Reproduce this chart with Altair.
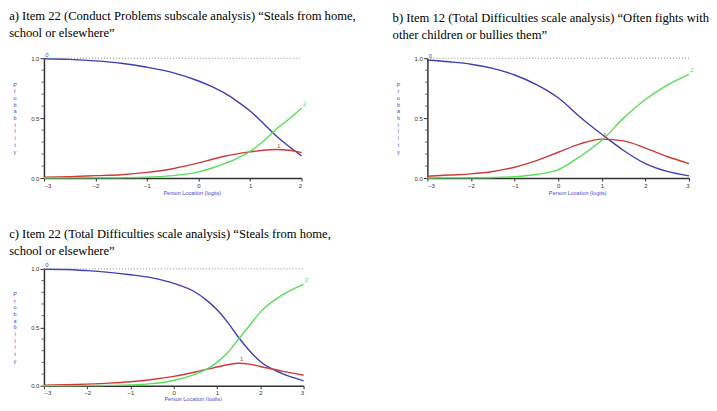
import altair as alt
import pandas as pd

# ---------------- data ----------------
# Panel a: Item 22 (Conduct Problems subscale)
xa = [-3, -2.5, -2, -1.5, -1, -0.5, 0, 0.25, 0.5, 0.75, 1, 1.25, 1.5, 1.75, 2]
a0 = [0.995, 0.99, 0.978, 0.958, 0.925, 0.88, 0.81, 0.765, 0.71, 0.64, 0.56, 0.46, 0.355, 0.265, 0.185]
a1 = [0.008, 0.012, 0.02, 0.028, 0.047, 0.078, 0.126, 0.155, 0.182, 0.202, 0.218, 0.232, 0.238, 0.232, 0.212]
a2 = [0.0, 0.001, 0.002, 0.003, 0.006, 0.02, 0.052, 0.082, 0.12, 0.165, 0.222, 0.305, 0.405, 0.49, 0.585]

# Panel b: Item 12 (Total Difficulties scale)
xb = [-3, -2.5, -2, -1.5, -1, -0.5, 0, 0.5, 1, 1.5, 2, 2.5, 3]
b0 = [0.985, 0.97, 0.95, 0.915, 0.86, 0.78, 0.67, 0.51, 0.365, 0.23, 0.12, 0.055, 0.018]
b1 = [0.015, 0.025, 0.035, 0.055, 0.09, 0.145, 0.215, 0.285, 0.325, 0.31, 0.25, 0.18, 0.12]
b2 = [0.0, 0.001, 0.002, 0.005, 0.012, 0.03, 0.07, 0.18, 0.315, 0.5, 0.655, 0.775, 0.865]

# Panel c: Item 22 (Total Difficulties scale)
xc = [-3, -2.5, -2, -1.5, -1, -0.5, 0, 0.5, 0.75, 1, 1.25, 1.5, 1.75, 2, 2.5, 3]
c0 = [0.997, 0.995, 0.985, 0.97, 0.95, 0.923, 0.876, 0.8, 0.735, 0.65, 0.54, 0.413, 0.3, 0.207, 0.105, 0.042]
c1 = [0.004, 0.008, 0.014, 0.022, 0.034, 0.053, 0.08, 0.118, 0.14, 0.16, 0.18, 0.193, 0.185, 0.165, 0.125, 0.09]
c2 = [0.0, 0.0, 0.001, 0.003, 0.007, 0.018, 0.045, 0.1, 0.14, 0.2, 0.285, 0.4, 0.515, 0.63, 0.775, 0.868]

titles = {
    "a": ["a) Item 22 (Conduct Problems subscale analysis) \u201cSteals from home,",
          "school or elsewhere\u201d"],
    "b": ["b) Item 12 (Total Difficulties scale analysis) \u201cOften fights with",
          "other children or bullies them\u201d"],
    "c": ["c) Item 22 (Total Difficulties scale analysis) \u201cSteals from home,",
          "school or elsewhere\u201d"],
}
categories = ["0", "1", "2"]
cat_colors = ["#3f3fb5", "#cc3a3a", "#58de58"]
x_title = "Person Location (logits)"
y_title = "Probability"
y_major = [0.0, 0.5, 1.0]
y_minor = [0.1, 0.2, 0.3, 0.4, 0.6, 0.7, 0.8, 0.9]

BLUE_TXT = "#4a4acc"
LETTER_LH = 6.7


def panel(key, xs, p0, p1, p2, w, h, xlabel_shift, toff, xtitle_pad=2):
    xmin, xmax = xs[0], xs[-1]
    rows = []
    for cat, ys in zip(categories, [p0, p1, p2]):
        for x, y in zip(xs, ys):
            rows.append({"x": x, "p": y, "cat": cat})
    df = pd.DataFrame(rows)

    xscale = alt.Scale(domain=[xmin, xmax], nice=False, zero=False)
    yscale = alt.Scale(domain=[0, 1], nice=False)
    cscale = alt.Scale(domain=categories, range=cat_colors)

    xaxis = alt.Axis(values=list(range(int(xmin), int(xmax) + 1)), format="d",
                     labelFontSize=6, labelColor="#333", labelFont="Liberation Sans",
                     labelPadding=1, tickSize=3, tickColor="#333",
                     domainColor="#333", domainWidth=1.5, grid=False,
                     title=x_title, titleFontSize=5.5, titleFont="Liberation Sans",
                     titleFontWeight="normal", titleColor=BLUE_TXT, titlePadding=xtitle_pad,
                     titleX=w / 2 + xlabel_shift)
    yaxis = alt.Axis(values=y_major, format=".1f",
                     labelFontSize=6, labelColor="#333", labelFont="Liberation Sans",
                     labelPadding=1, tickSize=4,
                     tickColor="#333", domainColor="#333", domainWidth=1.5, grid=False,
                     title=None)
    X = alt.X("x:Q", scale=xscale, axis=xaxis)
    Y = alt.Y("p:Q", scale=yscale, axis=yaxis)
    C = alt.Color("cat:N", scale=cscale, legend=None)

    lines = alt.Chart(df).mark_line(strokeWidth=1.4, interpolate="monotone").encode(
        x=X, y=Y, color=C,
    )

    rule_df = pd.DataFrame({"x": [xmin], "x2": [xmax], "p": [1.0]})
    rule = alt.Chart(rule_df).mark_rule(color="#888", strokeDash=[1, 2], strokeWidth=1).encode(
        x=X, x2="x2:Q", y=Y
    )

    minor = alt.Chart(pd.DataFrame({"p": y_minor})).mark_tick(
        orient="horizontal", size=2.5, thickness=1, color="#333"
    ).encode(x=alt.value(-1.3), y=Y)

    n = len(y_title)
    ytitle = alt.Chart(pd.DataFrame({"t": [0]})).mark_text(
        text=list(y_title), lineHeight=LETTER_LH, fontSize=5.5, font="Liberation Sans",
        color=BLUE_TXT, baseline="middle", align="center"
    ).encode(x=alt.value(-29), y=alt.value(h / 2 - (n - 1) * LETTER_LH / 2))

    lab_df = pd.DataFrame({
        "x": [xs[0], xs[p1.index(max(p1))], xs[-1]],
        "p": [p0[0], max(p1), p2[-1]],
        "cat": categories,
    })
    labels = alt.Chart(lab_df).mark_text(fontSize=6, dy=-4, dx=3, font="Liberation Sans").encode(
        x=X, y=Y, text="cat:N", color=C,
    )

    return alt.layer(lines, rule, minor, ytitle, labels).properties(
        width=w, height=h,
        title=alt.TitleParams(titles[key], anchor="start", frame="bounds",
                              font="Liberation Serif", fontSize=12.6, fontWeight="normal",
                              color="black", lineHeight=17, offset=toff, dx=-4),
    )


pa = panel("a", xa, a0, a1, a2, 258, 120, 19, 12.5)
pb = panel("b", xb, b0, b1, b2, 262, 120, 19, 11)
pc = panel("c", xc, c0, c1, c2, 260, 117, 19, 4.5, xtitle_pad=1)

chart = alt.vconcat(
    alt.hconcat(pa, pb, spacing=36),
    pc,
    spacing=32,
).properties(
    padding={"left": 1, "top": 1, "right": 0, "bottom": -2},
    background="white",
).configure_view(stroke=None)

chart.save("out.html", embed_options={"renderer": "svg", "actions": False})
